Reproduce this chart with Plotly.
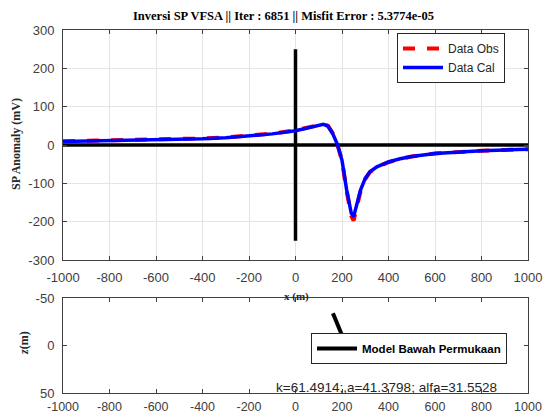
import plotly.graph_objects as go

# ---- data ----
x_pos = [-1000, -800, -600, -500, -400, -300, -200, -100, 0, 50, 100, 120, 140, 160,
         180, 200, 220, 240, 250, 260, 280, 300, 320, 350, 380, 400, 450, 500, 600, 700, 800, 900, 1000]
sp_obs = [10, 12, 14, 15, 17, 20, 24, 30, 38, 45, 53, 55, 50, 31,
          2, -41, -120, -185, -197, -172, -120, -89, -71, -58, -49, -45, -36, -30, -22, -18, -15, -13, -11]
sp_cal = [9, 11, 13, 14.5, 16, 19, 23.5, 29, 37, 44, 52, 54, 49, 30,
          2, -40, -117, -178, -187, -166, -117, -87, -70, -57, -48, -44, -36, -30, -22, -18, -15, -13, -11]

zero_x = [-1000, 1000]
zero_y = [0, 0]
axis_x = [0, 0]
axis_y = [-250, 250]

model_x = [161, 247]
model_z = [-34, 17]

x_ticks = [-1000, -800, -600, -400, -200, 0, 200, 400, 600, 800, 1000]
sp_ticks = [-300, -200, -100, 0, 100, 200, 300]
z_ticks = [-50, 0, 50]

title_text = "Inversi SP VFSA || Iter : 6851 || Misfit Error : 5.3774e-05"
param_text = "k=61.4914;,a=41.3798; alfa=31.5528"

W, H = 545, 416
def px(x):
    return x / W
def py(y):
    return 1 - y / H

def labels(vals):
    return [str(v) for v in vals]

fig = go.Figure()

fig.add_trace(go.Scatter(x=zero_x, y=zero_y, mode="lines", line=dict(color="black", width=3.5),
                         showlegend=False, hoverinfo="skip", xaxis="x", yaxis="y"))
fig.add_trace(go.Scatter(x=axis_x, y=axis_y, mode="lines", line=dict(color="black", width=3.5),
                         showlegend=False, hoverinfo="skip", xaxis="x", yaxis="y"))
fig.add_trace(go.Scatter(x=x_pos, y=sp_obs, mode="lines", name="Data Obs",
                         line=dict(color="#ff0000", width=4, dash="dash"),
                         xaxis="x", yaxis="y", legend="legend"))
fig.add_trace(go.Scatter(x=x_pos, y=sp_cal, mode="lines", name="Data Cal",
                         line=dict(color="#0000ff", width=3.5),
                         xaxis="x", yaxis="y", legend="legend"))
fig.add_trace(go.Scatter(x=model_x, y=model_z, mode="lines", name="Model Bawah Permukaan",
                         line=dict(color="black", width=4),
                         xaxis="x2", yaxis="y2", legend="legend2"))

tickfont = dict(family="Liberation Sans, Arial", size=13, color="#404040")
common_x = dict(range=[-1000, 1000], tickvals=x_ticks, ticktext=labels(x_ticks),
                ticks="inside", ticklen=4, tickcolor="#404040", showline=True, linecolor="#404040",
                linewidth=1, mirror="ticks", zeroline=False,
                automargin=False, domain=[px(63), px(528)])
common_y = dict(ticks="inside", ticklen=4, tickcolor="#404040", showline=True, linecolor="#404040",
                linewidth=1, mirror="ticks", zeroline=False, tickfont=tickfont,
                automargin=False, ticklabelstandoff=5)

serif_bold = dict(family="Liberation Serif, Times New Roman", size=12, color="#262626")

fig.update_layout(
    width=W, height=H,
    margin=dict(l=0, r=0, t=0, b=0),
    paper_bgcolor="white", plot_bgcolor="white",
    xaxis=dict(**common_x, anchor="y", showgrid=True, gridcolor="#e4e4e4",
               tickfont=tickfont, ticklabelstandoff=5),
    yaxis=dict(**common_y, range=[-300, 300], tickvals=sp_ticks, ticktext=labels(sp_ticks),
               showgrid=True, gridcolor="#e4e4e4", domain=[py(260), py(30)], anchor="x"),
    xaxis2=dict(**common_x, anchor="y2", showgrid=False,
                tickfont=dict(family="Liberation Sans, Arial", size=12.5, color="#404040"),
                ticklabelstandoff=2),
    yaxis2=dict(**common_y, range=[50, -50], tickvals=z_ticks, ticktext=labels(z_ticks),
                showgrid=False, domain=[py(393), py(298)], anchor="x2"),
    legend=dict(x=px(397), y=py(33), xanchor="left", yanchor="top",
                bgcolor="white", bordercolor="#262626", borderwidth=1,
                font=dict(family="Liberation Sans, Arial", size=12, color="#262626"),
                tracegroupgap=0, itemwidth=40),
    legend2=dict(x=px(311), y=py(333), xanchor="left", yanchor="top",
                 bgcolor="white", bordercolor="#262626", borderwidth=1,
                 font=dict(family="Liberation Sans, Arial", size=11.5, color="#000000", weight="bold"),
                 itemwidth=40),
    annotations=[
        dict(text="<b>" + title_text + "</b>", x=px(283), y=py(16), xref="paper", yref="paper",
             xanchor="center", yanchor="middle", showarrow=False,
             font=dict(family="Liberation Serif, Times New Roman", size=12.5, color="#000000")),
        dict(text=param_text, x=px(386), y=py(387), xref="paper", yref="paper",
             xanchor="center", yanchor="middle", showarrow=False,
             font=dict(family="Liberation Sans, Arial", size=13.5, color="#262626")),
        dict(text="<b>x (m)</b>", x=px(296), y=py(288), xref="paper", yref="paper",
             xanchor="center", yanchor="top", showarrow=False,
             font=dict(family="Liberation Serif, Times New Roman", size=11, color="#262626")),
        dict(text="<b>SP Anomaly (mV)</b>", x=px(16), y=py(144), xref="paper", yref="paper",
             xanchor="center", yanchor="middle", textangle=-90, showarrow=False, font=serif_bold),
        dict(text="<b><i>z</i>(m)</b>", x=px(24), y=py(343), xref="paper", yref="paper",
             xanchor="center", yanchor="middle", textangle=-90, showarrow=False, font=serif_bold),
    ],
)

fig.write_html("out.html", config={"displayModeBar": False},
               post_script="document.body.style.margin='0px';document.body.style.padding='0px';")
